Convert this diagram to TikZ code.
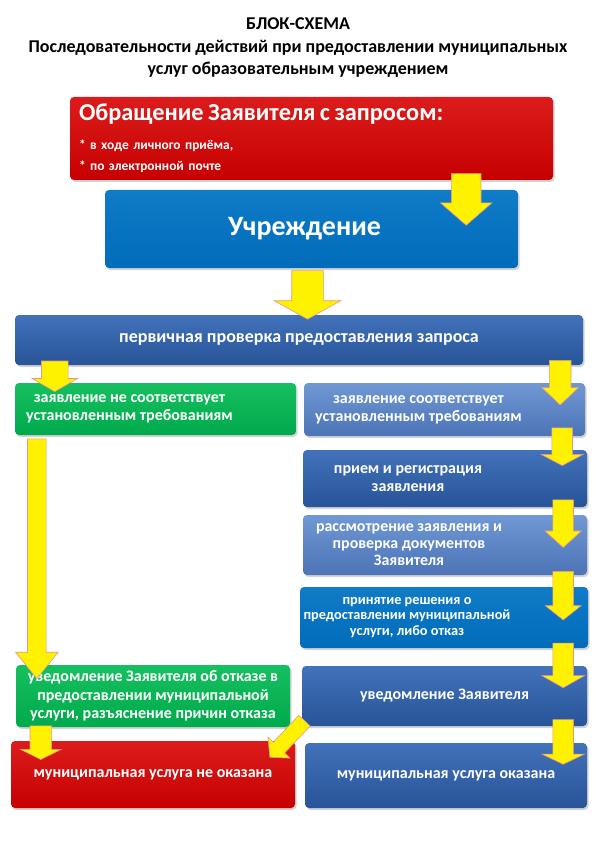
\documentclass[tikz,border=0pt]{standalone}
\usepackage{fontspec}
\setmainfont{Carlito}
\usetikzlibrary{shapes.arrows,shadows,calc}

\definecolor{redtop}{RGB}{220,28,28}
\definecolor{redbot}{RGB}{198,0,0}
\definecolor{greentop}{RGB}{22,192,96}
\definecolor{greenbot}{RGB}{0,170,76}
\definecolor{bluetop}{RGB}{16,124,200}
\definecolor{bluebot}{RGB}{0,108,186}
\definecolor{steeltop}{RGB}{66,114,186}
\definecolor{steelbot}{RGB}{40,84,152}
\definecolor{paletop}{RGB}{112,152,212}
\definecolor{palebot}{RGB}{76,116,182}
\definecolor{arrline}{RGB}{232,150,140}

% fat yellow arrow between two points
\newcommand\flow[3][]{\path let \p1=($(#3)-(#2)$), \n1={veclen(\x1,\y1)} in
  (#2) -- node[flowarr,sloped,allow upside down,minimum height=\n1,#1] {} (#3);}

\begin{document}
\begin{tikzpicture}[x=1pt,y=-1pt,
  box/.style={rectangle,rounded corners=4pt,inner sep=2pt,align=center,text=white,
    font=\bfseries\fontsize{16}{18.5}\selectfont,
    drop shadow={shadow xshift=1.5pt,shadow yshift=-2pt,opacity=.35}},
  redbox/.style={box,top color=redtop,bottom color=redbot},
  greenbox/.style={box,top color=greentop,bottom color=greenbot},
  bluebox/.style={box,top color=bluetop,bottom color=bluebot},
  steelbox/.style={box,top color=steeltop,bottom color=steelbot},
  palebox/.style={box,top color=paletop,bottom color=palebot},
  boxtxt/.style={text=white,align=center,font=\bfseries\fontsize{16}{18}\selectfont},
  flowarr/.style={single arrow,fill=yellow,draw=arrline,line width=.6pt,inner xsep=0pt,
    inner ysep=10pt,single arrow head extend=11pt,single arrow tip angle=110}]
\useasboundingbox (0,0) rectangle (595,842);

\node[font=\bfseries\fontsize{18}{22.5}\selectfont,align=center] at (298,48) (title)
  {БЛОК-СХЕМА\\Последовательности действий при предоставлении муниципальных\\услуг образовательным учреждением};

\node[redbox,minimum width=483,minimum height=83,align=left,text width=465,
  font=\bfseries\fontsize{13.4}{18}\selectfont] at (311.5,138.5) (req)
  {{\fontsize{24.3}{28}\selectfont Обращение Заявителя с запросом:}\\[11pt]* в ходе личного приёма,\\[3pt]* по электронной почте};
\node[bluebox,minimum width=413,minimum height=78,font=\bfseries\fontsize{28}{32}\selectfont] at (311.5,229) (inst)
  {\hspace*{-14pt}Учреждение};
\node[steelbox,minimum width=568,minimum height=50,font=\bfseries\fontsize{18}{21}\selectfont] at (299,340) (check)
  {первичная проверка предоставления запроса};

\node[greenbox,minimum width=281,minimum height=52,
  label={[boxtxt,xshift=-26pt]center:{заявление не соответствует\\установленным требованиям}}] at (155.5,409) (no) {};
\node[palebox,minimum width=281,minimum height=53,
  label={[boxtxt,xshift=-26pt]center:{заявление соответствует\\установленным требованиям}}] at (444.5,409.5) (yes) {};
\node[steelbox,minimum width=284,minimum height=57,
  label={[boxtxt,xshift=-37pt]center:{прием и регистрация\\заявления}}] at (445,478.5) (recv) {};
\node[palebox,minimum width=284,minimum height=60,
  label={[boxtxt,xshift=-36pt,font=\bfseries\fontsize{15.9}{17}\selectfont]center:{рассмотрение заявления и\\проверка документов\\Заявителя}}] at (445,545) (exam) {};
\node[bluebox,minimum width=288,minimum height=61,
  label={[boxtxt,xshift=-37pt,font=\bfseries\fontsize{14.3}{15.5}\selectfont]center:{принятие решения о\\предоставлении муниципальной\\услуги, либо отказ}}] at (444,617.5) (dec) {};

\node[greenbox,minimum width=274,minimum height=62] at (153,696) (refuse)
  {уведомление Заявителя об отказе в\\предоставлении муниципальной\\услуги, разъяснение причин отказа};
\node[steelbox,minimum width=285,minimum height=60] at (444.5,696) (notify) {уведомление Заявителя};
\node[redbox,minimum width=284,minimum height=67] at (153,774.5) (notdone) {муниципальная услуга не оказана};
\node[steelbox,minimum width=282,minimum height=65] at (446,775.5) (done) {муниципальная услуга оказана};

\flow[inner ysep=14.5pt,single arrow head extend=11pt,single arrow tip angle=98]
  {[xshift=-87pt,yshift=13pt]req.south east}{[xshift=-52pt,yshift=-29pt]inst.north east}
\flow[inner ysep=15.5pt,single arrow head extend=17.5pt,single arrow tip angle=122]
  {[xshift=-4pt,yshift=2pt]inst.south}{[xshift=8.5pt]check.north}
\flow[inner ysep=13pt,single arrow head extend=9.5pt,single arrow tip angle=120]
  {[xshift=40pt,yshift=8pt]check.south west}{[xshift=40pt,yshift=-5pt]no.north west}
\flow[inner ysep=10.5pt,single arrow head extend=7.5pt,single arrow tip angle=93]
  {[xshift=-23pt,yshift=10pt]check.south east}{[xshift=-25pt,yshift=-17pt]yes.north east}
\flow[single arrow head extend=10.5pt,single arrow tip angle=124]
  {[xshift=-23pt,yshift=11pt]yes.south east}{[xshift=-25pt,yshift=-13pt]recv.north east}
\flow[single arrow head extend=8pt,single arrow tip angle=96]
  {[xshift=-24pt,yshift=12pt]recv.south east}{[xshift=-24pt,yshift=-28pt]exam.north east}
\flow[single arrow head extend=7.5pt,single arrow tip angle=103]
  {[xshift=-24pt,yshift=8pt]exam.south east}{[xshift=-25pt,yshift=-29pt]dec.north east}
\flow[single arrow head extend=11pt,single arrow tip angle=121]
  {[xshift=-25pt,yshift=8pt]dec.south east}{[xshift=-24pt,yshift=-19pt]notify.north east}
\flow[single arrow head extend=11pt,single arrow tip angle=129]
  {[xshift=-24pt,yshift=9pt]notify.south east}{[xshift=-24pt,yshift=-19pt]done.north east}
\flow[inner ysep=9pt,single arrow head extend=12pt,single arrow tip angle=78]
  {[xshift=22pt,yshift=2pt]no.south west}{[xshift=21pt,yshift=-8pt]refuse.north west}
\flow[inner ysep=10.5pt,single arrow head extend=9.5pt,single arrow tip angle=127]
  {[xshift=25pt,yshift=4pt]refuse.south west}{[xshift=30pt,yshift=-16pt]notdone.north west}
\flow[inner ysep=7.5pt,single arrow head extend=7.5pt,single arrow tip angle=98]
  {[xshift=5pt,yshift=8pt]notify.south west}{[xshift=-23pt,yshift=-14pt]notdone.north east}
\end{tikzpicture}
\end{document}
